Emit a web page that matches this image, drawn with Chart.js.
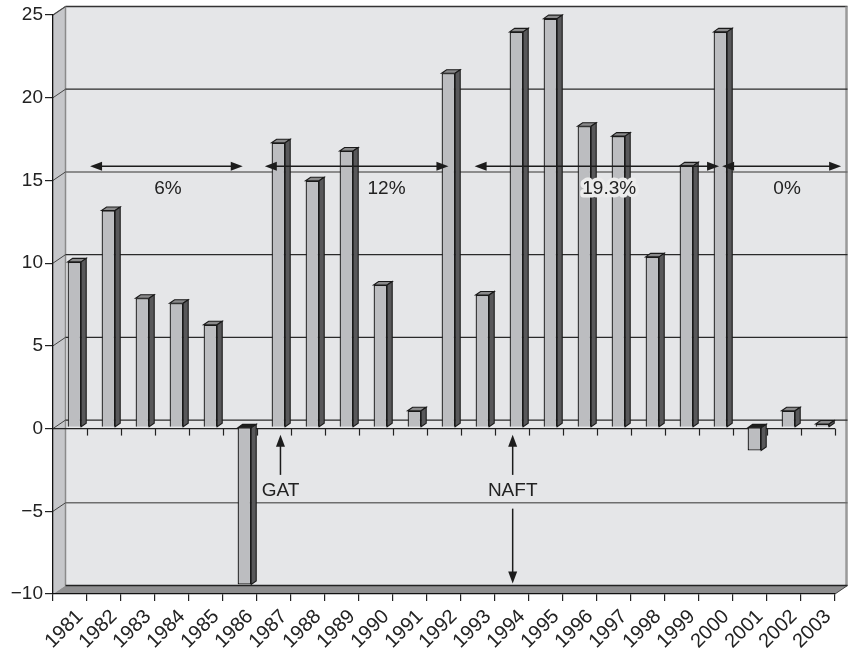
<!DOCTYPE html>
<html><head><meta charset="utf-8">
<script src="https://cdn.jsdelivr.net/npm/chart.js@4/dist/chart.umd.min.js"></script>
<style>html,body{margin:0;padding:0;background:#fff}#wrap{width:848px;height:649px;position:relative}</style>
</head><body><div id="wrap"><canvas id="c"></canvas></div>
<script>
// ---- data ----
const years = ['1981','1982','1983','1984','1985','1986','1987','1988','1989','1990','1991','1992','1993','1994','1995','1996','1997','1998','1999','2000','2001','2002','2003'];
const growth = [10.0,13.1,7.8,7.5,6.2,-9.5,17.2,14.9,16.7,8.6,1.0,21.4,8.0,23.9,24.7,18.2,17.6,10.3,15.8,23.9,-1.4,1.0,0.2];
const yTicks = [-10,-5,0,5,10,15,20,25];
const periodLabels = ['6%','12%','19.3%','0%'];
const periodFrom = [0.59,5.73,11.9,19.18];   // category index where arrow starts
const periodTo = [5.08,11.13,19.09,22.68];     // category index where arrow ends
const periodTextAt = [2.88,9.31,15.86,21.09];  // category index of period label
const eventLabels = ['GAT','NAFT'];
const eventAt = [6.19,13.02];                  // category index of event arrow

// ---- styling constants ----
const FONT = '"Liberation Sans", Arial, Helvetica, sans-serif';
const INK = '#1c1c1c';
const DX = 12.5, DY = -8.5;      // wall depth
const BDX = 5, BDY = -3.5;       // bar depth
const SX = 4.4, SY = -1.3;       // bar shift inside the box

function poly(ctx, pts, fill, stroke, lw){
  ctx.beginPath(); ctx.moveTo(pts[0][0],pts[0][1]);
  for(let i=1;i<pts.length;i++) ctx.lineTo(pts[i][0],pts[i][1]);
  ctx.closePath();
  if(fill){ctx.fillStyle=fill;ctx.fill();}
  if(stroke){ctx.strokeStyle=stroke;ctx.lineWidth=lw||1;ctx.stroke();}
}
function line(ctx,x1,y1,x2,y2,c,w){ctx.beginPath();ctx.moveTo(x1,y1);ctx.lineTo(x2,y2);ctx.strokeStyle=c;ctx.lineWidth=w||1;ctx.stroke();}
function arrowHead(ctx,x,y,dir){
  const L=12,H=4.5; ctx.beginPath();
  if(dir==='l'){ctx.moveTo(x,y);ctx.lineTo(x+L,y-H);ctx.lineTo(x+L,y+H);}
  if(dir==='r'){ctx.moveTo(x,y);ctx.lineTo(x-L,y-H);ctx.lineTo(x-L,y+H);}
  if(dir==='u'){ctx.moveTo(x,y);ctx.lineTo(x-H,y+L);ctx.lineTo(x+H,y+L);}
  if(dir==='d'){ctx.moveTo(x,y);ctx.lineTo(x-H,y-L);ctx.lineTo(x+H,y-L);}
  ctx.closePath(); ctx.fillStyle=INK; ctx.fill();
}

const scene = {
  id:'scene',
  beforeDraw(chart){
    const {ctx, chartArea:a, scales:{y}} = chart;
    const L=a.left,R=a.right,T=a.top,B=a.bottom;
    ctx.save();
    poly(ctx,[[L+DX,T+DY],[R+DX,T+DY],[R+DX,B+DY],[L+DX,B+DY]],'#e5e6e8');
    poly(ctx,[[L,T],[L+DX,T+DY],[L+DX,B+DY],[L,B]],'#c6c7ca');
    poly(ctx,[[L,B],[L+DX,B+DY],[R+DX,B+DY],[R,B]],'#8f8f90');
    line(ctx,L+DX,T+DY,R+DX,T+DY,'#333',1.5);
    line(ctx,L+DX,T+DY,L+DX,B+DY,'#8a8a8a',1.5);
    line(ctx,R+DX-1,T+DY,R+DX-1,B+DY,'#9a9a9a',2.5);
    line(ctx,L,T,L+DX,T+DY,'#666',1.2);
    line(ctx,L+DX,B+DY,R+DX,B+DY,'#222',1.5);
    line(ctx,R,B,R+DX,B+DY,'#444',1);
    yTicks.forEach(v=>{
      const py=y.getPixelForValue(v);
      if(v>-10 && v<25){
        const light = (v===15||v===-5);
        line(ctx,L+DX,py+DY,R+DX,py+DY,light?'#6e6e6e':'#2a2a2a',light?1.6:1.2);
      }
      if(v>-10) line(ctx,L,py,L+DX,py+DY,'#444',1);
    });
    ctx.restore();
  },
  beforeDatasetsDraw(chart){
    const {ctx, chartArea:a, scales:{y}} = chart;
    const L=a.left,R=a.right;
    const y0=y.getPixelForValue(0);
    ctx.save();
    line(ctx,L,y0,R,y0,'#222',1.3);
    const w=(R-L)/years.length;
    for(let k=1;k<=years.length;k++){ const px=Math.round(L+k*w)+0.5; line(ctx,px,y0,px,y0+7,'#222',1.2); }
    ctx.restore();
    ctx.save();
    ctx.translate(SX,SY);
  },
  afterDatasetsDraw(chart){
    const {ctx} = chart;
    const meta = chart.getDatasetMeta(0);
    meta.data.forEach((bar,i)=>{
      const p = bar.getProps(['x','y','base','width'],true);
      const l=p.x-p.width/2, r=p.x+p.width/2;
      const top=Math.min(p.y,p.base), bot=Math.max(p.y,p.base);
      const neg = growth[i]<0;
      poly(ctx,[[l,top],[l+BDX,top+BDY],[r+BDX,top+BDY],[r,top]], neg?'#1e1e1e':'#8a8a8b','#1a1a1a',1.1);
      poly(ctx,[[r,top],[r+BDX,top+BDY],[r+BDX,bot+BDY],[r,bot]], '#58585a','#1a1a1a',1.1);
    });
    ctx.restore();
  },
  afterDraw(chart){
    const {ctx, scales:{x,y}} = chart;
    ctx.save();
    ctx.font = '19px '+FONT; ctx.textAlign='center'; ctx.textBaseline='middle';
    const ay = y.getPixelForValue(15.86);
    const ty = y.getPixelForValue(14.5);
    periodLabels.forEach((lab,i)=>{
      const x1=x.getPixelForValue(periodFrom[i]), x2=x.getPixelForValue(periodTo[i]);
      line(ctx,x1+4,ay,x2-4,ay,INK,1.5);
      arrowHead(ctx,x1,ay,'l'); arrowHead(ctx,x2,ay,'r');
      const cx=x.getPixelForValue(periodTextAt[i]);
      if(lab==='19.3%'){
        ctx.lineJoin='round'; ctx.strokeStyle='#ececec'; ctx.lineWidth=7;
        ctx.strokeText(lab,cx,ty);
      }
      ctx.fillStyle='#222'; ctx.fillText(lab,cx,ty);
    });
    eventLabels.forEach((lab,i)=>{
      const ex=x.getPixelForValue(eventAt[i]);
      const tip=y.getPixelForValue(-0.38), tail=y.getPixelForValue(-2.8);
      line(ctx,ex,tip+4,ex,tail,INK,1.5); arrowHead(ctx,ex,tip,'u');
      ctx.fillStyle='#222'; ctx.fillText(lab,ex,y.getPixelForValue(-3.75));
      if(lab==='NAFT'){
        const s=y.getPixelForValue(-4.84), e=y.getPixelForValue(-9.37);
        line(ctx,ex,s,ex,e-4,INK,1.5); arrowHead(ctx,ex,e,'d');
      }
    });
    ctx.restore();
  }
};

new Chart(document.getElementById('c'), {
  type:'bar',
  data:{ labels: years, datasets:[{ data: growth, backgroundColor:'#bcbdc0', borderColor:'#1a1a1a', borderWidth:1.3, barPercentage:0.4, categoryPercentage:1.0 }] },
  options:{
    responsive:true, maintainAspectRatio:false, animation:false, devicePixelRatio:1,
    layout:{ padding:{ top:15, right:13, left:0, bottom:0 } },
    plugins:{ legend:{display:false}, tooltip:{enabled:false} },
    scales:{
      x:{
        offset:true,
        grid:{ drawOnChartArea:false, offset:true, tickLength:7, color:'#222', lineWidth:1.2 },
        border:{ display:true, color:'#111', width:1.3 },
        ticks:{ autoSkip:false, minRotation:45, maxRotation:45, color:'#222', font:{ family:FONT, size:20 }, padding:4, labelOffset:10 },
        afterFit(s){ s.height=55; s.paddingLeft=0; s.paddingRight=0; }
      },
      y:{
        min:-10, max:25,
        afterBuildTicks(s){ s.ticks = yTicks.map(v=>({value:v})); },
        grid:{ drawOnChartArea:false, tickLength:8, color:'#222', lineWidth:1.2 },
        border:{ display:true, color:'#111', width:1.3 },
        ticks:{ color:'#222', font:{ family:FONT, size:19 }, padding:2, callback:v=> v<0 ? '\u2212'+Math.abs(v) : String(v) },
        afterFit(s){ s.width=53; }
      }
    }
  },
  plugins:[scene]
});
</script></body></html>
